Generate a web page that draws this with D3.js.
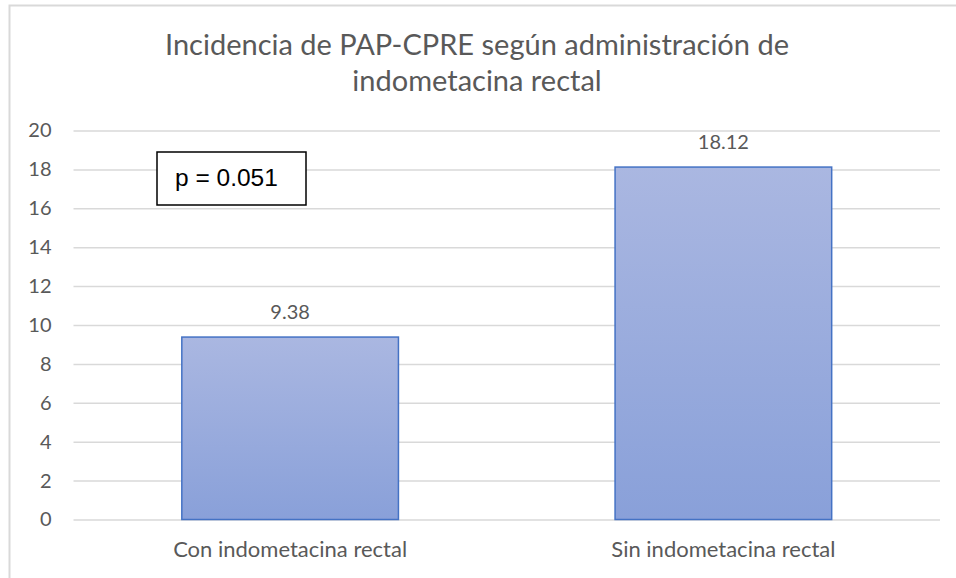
<!DOCTYPE html>
<html>
<head>
    <meta charset="utf-8">
    <title>Incidencia de PAP-CPRE</title>
    <script src="https://cdn.jsdelivr.net/npm/d3@7"></script>
    <style>
        body { margin: 0; background: #fff; }
        text { font-family: Lato, "Open Sans", sans-serif; }
    </style>
</head>
<body>
<script>
    // datos del grafico
    var categorias = [ "Con indometacina rectal", "Sin indometacina rectal" ];
    var valores = [ 9.38, 18.12 ];
    var etiquetas = [ "9.38", "18.12" ];
    var ticksY = [ 0, 2, 4, 6, 8, 10, 12, 14, 16, 18, 20 ];
    var titulo = [ "Incidencia de PAP-CPRE según administración de", "indometacina rectal" ];
    var anotacion = "p = 0.051";

    var width = 956;
    var height = 578;
    var plot = { left: 73.5, right: 940, top: 130.5, bottom: 519.5 };
    var gris = "#595959";

    var svg = d3.select( "body" )
        .append( "svg" )
        .attr( "width", width )
        .attr( "height", height );

    // degradado de las barras
    var grad = svg.append( "defs" ).append( "linearGradient" )
        .attr( "id", "relleno" )
        .attr( "x1", 0 ).attr( "y1", 0 )
        .attr( "x2", 0 ).attr( "y2", 1 );
    grad.append( "stop" ).attr( "offset", "0%" ).attr( "stop-color", "#aab7e1" );
    grad.append( "stop" ).attr( "offset", "100%" ).attr( "stop-color", "#89a0d9" );

    // borde del area del grafico
    svg.append( "rect" )
        .attr( "x", 9.5 )
        .attr( "y", 5.5 )
        .attr( "width", 960 )
        .attr( "height", 600 )
        .attr( "fill", "none" )
        .attr( "stroke", "#d9d9d9" )
        .attr( "stroke-width", 2 );

    var x = d3.scaleBand()
        .domain( categorias )
        .range( [ plot.left, plot.right ] )
        .paddingInner( 0.5 )
        .paddingOuter( 0.25 );

    var y = d3.scaleLinear()
        .domain( [ 0, 20 ] )
        .range( [ plot.bottom, plot.top ] );

    // lineas de cuadricula y etiquetas del eje y
    var ejeY = d3.axisLeft( y )
        .tickValues( ticksY )
        .tickSize( -( plot.right - plot.left ) )
        .tickPadding( 22 );
    var gy = svg.append( "g" )
        .attr( "transform", "translate(" + plot.left + ",0)" )
        .call( ejeY );
    gy.select( ".domain" ).remove();
    gy.selectAll( ".tick line" )
        .attr( "stroke", "#d9d9d9" )
        .attr( "stroke-width", 1.5 );
    gy.selectAll( ".tick text" )
        .attr( "fill", gris )
        .style( "font-size", "20px" );

    // eje x
    var ejeX = d3.axisBottom( x ).tickSize( 0 ).tickPadding( 22 );
    var gx = svg.append( "g" )
        .attr( "transform", "translate(0," + plot.bottom + ")" )
        .call( ejeX );
    gx.select( ".domain" ).remove();
    gx.selectAll( ".tick text" )
        .attr( "fill", gris )
        .style( "font-size", "22px" );

    // barras
    svg.append( "g" ).selectAll( "rect" )
        .data( valores )
        .enter()
        .append( "rect" )
        .attr( "x", function( d, i ) { return x( categorias[i] ); } )
        .attr( "y", function( d ) { return y( d ); } )
        .attr( "width", x.bandwidth() )
        .attr( "height", function( d ) { return y( 0 ) - y( d ); } )
        .attr( "fill", "url(#relleno)" )
        .attr( "stroke", "#4472c4" )
        .attr( "stroke-width", 1.5 );

    // etiquetas de datos
    svg.append( "g" ).selectAll( "text" )
        .data( valores )
        .enter()
        .append( "text" )
        .attr( "x", function( d, i ) { return x( categorias[i] ) + x.bandwidth() / 2; } )
        .attr( "y", function( d ) { return y( d ) - 18; } )
        .attr( "text-anchor", "middle" )
        .attr( "fill", gris )
        .style( "font-size", "20px" )
        .text( function( d, i ) { return etiquetas[i]; } );

    // titulo
    svg.append( "g" ).selectAll( "text" )
        .data( titulo )
        .enter()
        .append( "text" )
        .attr( "x", 477 )
        .attr( "y", function( d, i ) { return 54.5 + i * 36; } )
        .attr( "text-anchor", "middle" )
        .attr( "fill", gris )
        .style( "font-size", "29px" )
        .text( function( d ) { return d; } );

    // cuadro del valor p
    var caja = svg.append( "g" );
    caja.append( "rect" )
        .attr( "x", 157 )
        .attr( "y", 152 )
        .attr( "width", 149 )
        .attr( "height", 53 )
        .attr( "fill", "#fff" )
        .attr( "stroke", "#000" )
        .attr( "stroke-width", 1.5 );
    caja.append( "text" )
        .attr( "x", 175 )
        .attr( "y", 186 )
        .attr( "fill", "#000" )
        .style( "font-family", "'Liberation Sans', Arial, sans-serif" )
        .style( "font-size", "24.5px" )
        .text( anotacion );
</script>
</body>
</html>
